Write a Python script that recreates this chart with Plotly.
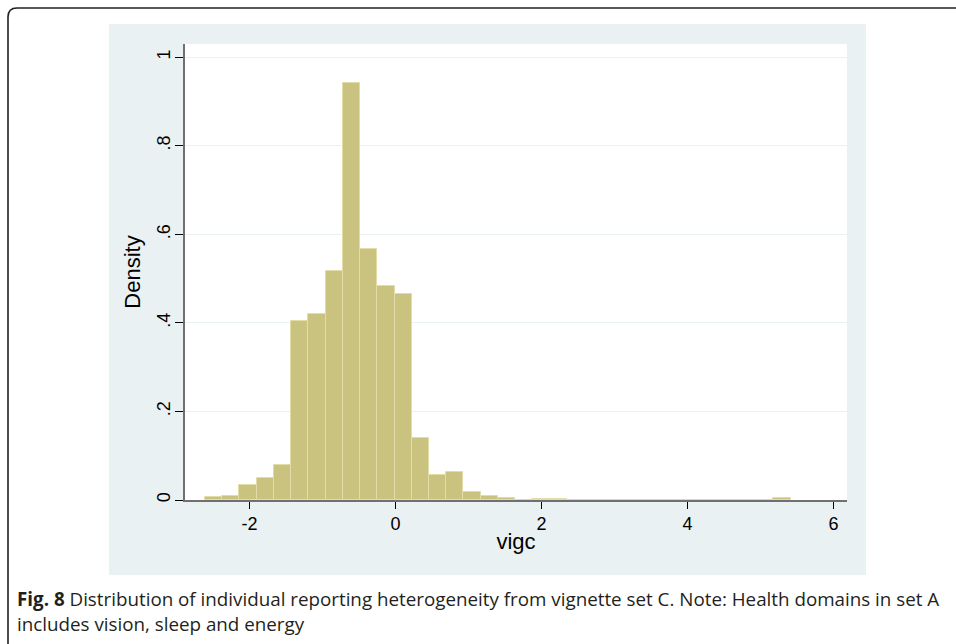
"""
Histograma de vigc (densidad), estilo Stata s2color, con pie de figura.
"""
import numpy as np
import plotly.graph_objects as go

# =============================================================================
# DATOS
# =============================================================================
BIN_START = -2.61
BIN_WIDTH = 0.236
DENSITY = [
    0.006, 0.009, 0.035, 0.049, 0.078, 0.405, 0.420, 0.518, 0.942, 0.567,
    0.483, 0.466, 0.139, 0.056, 0.063, 0.017, 0.008, 0.005, 0.000, 0.003,
    0.003, 0.000, 0.000, 0.000, 0.000, 0.000, 0.000, 0.000, 0.000, 0.000,
    0.000, 0.000, 0.000, 0.004,
]
X_TICKS = [-2, 0, 2, 4, 6]
X_TICK_LABELS = ["-2", "0", "2", "4", "6"]
Y_TICKS = [0, 0.2, 0.4, 0.6, 0.8, 1]
Y_TICK_LABELS = ["0", ".2", ".4", ".6", ".8", "1"]
X_TITLE = "vigc"
Y_TITLE = "Density"
CAPTION_BOLD = "Fig. 8"
CAPTION_LINE1 = " Distribution of individual reporting heterogeneity from vignette set C. Note: Health domains in set A"
CAPTION_LINE2 = "includes vision, sleep and energy"

# =============================================================================
# GEOMETRIA (pixeles)
# =============================================================================
W, H = 956, 644
PL, PR, PT, PB = 185, 847, 44, 500          # area del grafico (blanca)
GL, GR, GT, GB = 109, 866, 24, 575          # region gris del grafico

FILL = "#CAC37F"
EDGE = "#E2DDA8"
REGION = "#EAF1F2"
AXIS = "#707070"
FONT = "Liberation Sans, Arial, sans-serif"
CAP_FONT = "Open Sans, Noto Sans, sans-serif"


def px_x(p):
    return (p - PL) / (PR - PL)


def px_y(p):
    return (PB - p) / (PB - PT)


centers = BIN_START + BIN_WIDTH * (np.arange(len(DENSITY)) + 0.5)

fig = go.Figure()
fig.add_bar(
    x=centers,
    y=DENSITY,
    width=BIN_WIDTH,
    marker=dict(color=FILL, line=dict(color=EDGE, width=1)),
    hoverinfo="skip",
)

fig.update_layout(
    width=W,
    height=H,
    margin=dict(l=PL, r=W - PR, t=PT, b=H - PB, pad=0),
    paper_bgcolor="white",
    plot_bgcolor="rgba(0,0,0,0)",
    showlegend=False,
    bargap=0,
    font=dict(family=FONT, size=18, color="black"),
)
fig.update_xaxes(
    range=[-2.884, 6.185],
    tickvals=X_TICKS,
    ticktext=X_TICK_LABELS,
    ticks="outside",
    ticklen=7,
    tickwidth=1.3,
    tickcolor="black",
    showline=True,
    linecolor=AXIS,
    linewidth=1.6,
    showgrid=False,
    zeroline=False,
    title=dict(text=X_TITLE, standoff=0),
)
fig.update_yaxes(
    range=[0, 1.0298],
    tickvals=Y_TICKS,
    ticktext=Y_TICK_LABELS,
    tickangle=-90,
    ticklabelstandoff=-2,
    ticks="outside",
    ticklen=8,
    tickwidth=1.3,
    tickcolor="black",
    showline=True,
    linecolor=AXIS,
    linewidth=1.6,
    showgrid=True,
    gridcolor=REGION,
    gridwidth=1.2,
    zeroline=False,
    title=dict(text=Y_TITLE, standoff=7),
)

# region gris alrededor + fondo blanco del area
fig.add_shape(type="rect", xref="paper", yref="paper", layer="below",
              x0=px_x(GL), x1=px_x(GR), y0=px_y(GB), y1=px_y(GT),
              fillcolor=REGION, line=dict(width=0))
fig.add_shape(type="rect", xref="paper", yref="paper", layer="below",
              x0=0, x1=1, y0=0, y1=1,
              fillcolor="white", line=dict(width=0))

# marco exterior con esquina redondeada
x8, y8, x16, y16 = px_x(8), px_y(8), px_x(17), px_y(17)
fig.add_shape(
    type="path", xref="paper", yref="paper",
    path=(f"M {x8},{px_y(660)} L {x8},{y16} Q {x8},{y8} {x16},{y8} L {px_x(970)},{y8}"),
    line=dict(color="#222222", width=1.6),
)

# pie de figura
fig.add_annotation(
    xref="paper", yref="paper", x=px_x(15), y=px_y(599),
    xanchor="left", yanchor="middle", showarrow=False,
    text=f"<b>{CAPTION_BOLD}</b>{CAPTION_LINE1}",
    font=dict(family=CAP_FONT, size=18.8, color="#231F20"),
)
fig.add_annotation(
    xref="paper", yref="paper", x=px_x(15), y=px_y(624),
    xanchor="left", yanchor="middle", showarrow=False,
    text=CAPTION_LINE2,
    font=dict(family=CAP_FONT, size=18.8, color="#231F20"),
)

# sin margen del body para que el lienzo empiece en (0, 0)
fig.write_html("out.html", config={"displayModeBar": False},
               post_script="document.body.style.margin='0';")
